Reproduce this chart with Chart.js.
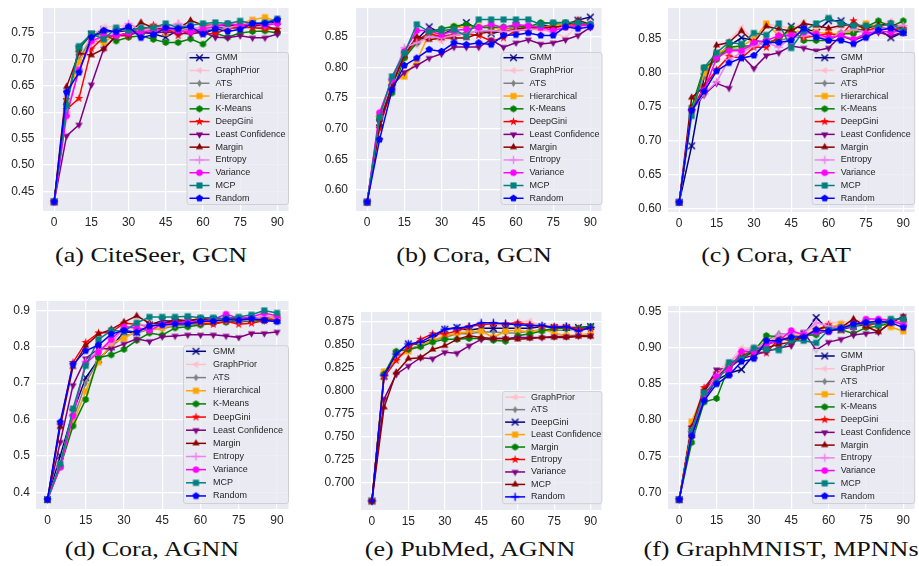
<!DOCTYPE html>
<html><head><meta charset="utf-8">
<script src="https://cdn.jsdelivr.net/npm/chart.js@4.4.1/dist/chart.umd.min.js"></script>
<style>
html,body{margin:0;padding:0;background:#fff;width:919px;height:566px;overflow:hidden;position:relative}
canvas{position:absolute}
.cap{position:absolute;font-family:"Liberation Serif",serif;font-size:21px;color:#111;white-space:nowrap;transform:translateX(-50%) scaleX(1.24);transform-origin:center;line-height:21px}
</style></head><body>
<div class="cap" style="left:151px;top:245px">(a) CiteSeer, GCN</div>
<div class="cap" style="left:474px;top:245px">(b) Cora, GCN</div>
<div class="cap" style="left:776px;top:245px">(c) Cora, GAT</div>
<div class="cap" style="left:152px;top:539px">(d) Cora, AGNN</div>
<div class="cap" style="left:470px;top:539px">(e) PubMed, AGNN</div>
<div class="cap" style="left:781px;top:539px">(f) GraphMNIST, MPNNs</div>
<script>
// ---------- data ----------
const xs = [0,5,10,15,20,25,30,35,40,45,50,55,60,65,70,75,80,85,90];
const xTicks = [0,15,30,45,60,75,90];

const methods12 = ['GMM','GraphPrior','ATS','Hierarchical','K-Means','DeepGini','Least Confidence','Margin','Entropy','Variance','MCP','Random'];
const colors12  = ['#000080','#FFC0CB','#808080','#FFA500','#008000','#FF0000','#800080','#8B0000','#EE82EE','#FF00FF','#008080','#0000FF'];
const markers12 = ['x','<','d','s','h','*','v','^','+','o','s','p'];

const methodsE = ['GraphPrior','ATS','DeepGini','Least Confidence','Margin','Entropy','Variance','MCP','Random'];
const colorsE  = ['#FFC0CB','#808080','#000080','#FFA500','#008000','#FF0000','#800080','#8B0000','#0000FF'];
const markersE = ['<','d','x','s','h','*','v','^','+'];

const ticksA = [0.45,0.50,0.55,0.60,0.65,0.70,0.75];
const ticksB = [0.60,0.65,0.70,0.75,0.80,0.85];
const ticksC = [0.60,0.65,0.70,0.75,0.80,0.85];
const ticksD = [0.4,0.5,0.6,0.7,0.8,0.9];
const ticksE = [0.700,0.725,0.750,0.775,0.800,0.825,0.850,0.875];
const ticksF = [0.70,0.75,0.80,0.85,0.90,0.95];

// (a) CiteSeer, GCN  (order = methods12)
const seriesA = [
 [0.43,0.62,0.72,0.748,0.757,0.752,0.755,0.753,0.748,0.742,0.755,0.756,0.752,0.758,0.762,0.765,0.768,0.766,0.772],
 [0.43,0.63,0.705,0.745,0.762,0.762,0.766,0.762,0.765,0.765,0.768,0.766,0.765,0.768,0.766,0.768,0.77,0.768,0.765],
 [0.43,0.62,0.70,0.74,0.75,0.755,0.755,0.758,0.755,0.752,0.755,0.758,0.755,0.758,0.76,0.758,0.762,0.76,0.76],
 [0.43,0.62,0.695,0.735,0.732,0.748,0.745,0.755,0.758,0.75,0.758,0.752,0.762,0.765,0.762,0.768,0.775,0.78,0.772],
 [0.43,0.615,0.72,0.748,0.748,0.735,0.742,0.745,0.738,0.732,0.732,0.739,0.729,0.75,0.742,0.75,0.753,0.754,0.75],
 [0.43,0.605,0.626,0.72,0.742,0.745,0.745,0.755,0.765,0.76,0.745,0.755,0.748,0.749,0.758,0.762,0.76,0.758,0.757],
 [0.43,0.555,0.576,0.652,0.72,0.745,0.748,0.75,0.75,0.752,0.75,0.748,0.752,0.742,0.741,0.745,0.741,0.741,0.748],
 [0.43,0.648,0.712,0.708,0.72,0.745,0.75,0.77,0.76,0.758,0.758,0.774,0.765,0.765,0.765,0.765,0.765,0.765,0.755],
 [0.43,0.60,0.68,0.73,0.745,0.75,0.768,0.755,0.76,0.762,0.768,0.758,0.762,0.765,0.76,0.765,0.77,0.765,0.768],
 [0.43,0.593,0.68,0.735,0.745,0.745,0.75,0.752,0.755,0.758,0.755,0.752,0.758,0.762,0.768,0.765,0.768,0.765,0.768],
 [0.43,0.612,0.725,0.749,0.738,0.76,0.755,0.76,0.76,0.768,0.76,0.765,0.768,0.77,0.768,0.773,0.768,0.77,0.777],
 [0.43,0.638,0.675,0.742,0.755,0.752,0.762,0.741,0.747,0.76,0.758,0.762,0.748,0.758,0.753,0.757,0.768,0.768,0.775]
];
// (b) Cora, GCN
const seriesB = [
 [0.58,0.71,0.775,0.82,0.845,0.866,0.855,0.862,0.873,0.862,0.855,0.86,0.868,0.865,0.868,0.868,0.87,0.877,0.882],
 [0.58,0.727,0.78,0.83,0.835,0.848,0.842,0.848,0.85,0.855,0.858,0.862,0.865,0.862,0.86,0.858,0.848,0.87,0.87],
 [0.58,0.715,0.775,0.82,0.84,0.852,0.85,0.855,0.855,0.86,0.858,0.862,0.865,0.865,0.866,0.868,0.87,0.872,0.87],
 [0.58,0.72,0.775,0.785,0.81,0.855,0.855,0.866,0.865,0.867,0.865,0.862,0.86,0.866,0.865,0.868,0.87,0.872,0.868],
 [0.58,0.715,0.758,0.815,0.84,0.858,0.863,0.867,0.87,0.865,0.865,0.866,0.868,0.866,0.873,0.872,0.873,0.872,0.87],
 [0.58,0.70,0.77,0.82,0.845,0.855,0.85,0.852,0.855,0.852,0.843,0.848,0.86,0.862,0.865,0.865,0.868,0.87,0.868],
 [0.58,0.71,0.77,0.792,0.803,0.815,0.822,0.833,0.833,0.833,0.845,0.833,0.84,0.845,0.838,0.84,0.845,0.852,0.865],
 [0.58,0.705,0.77,0.82,0.85,0.845,0.848,0.848,0.848,0.855,0.858,0.858,0.862,0.865,0.865,0.865,0.868,0.877,0.87],
 [0.58,0.72,0.78,0.832,0.84,0.85,0.848,0.852,0.855,0.86,0.86,0.858,0.86,0.862,0.862,0.858,0.868,0.865,0.868],
 [0.58,0.726,0.78,0.826,0.86,0.86,0.853,0.86,0.862,0.865,0.87,0.865,0.87,0.868,0.865,0.86,0.865,0.868,0.87],
 [0.58,0.718,0.785,0.823,0.87,0.858,0.86,0.862,0.851,0.878,0.878,0.878,0.878,0.878,0.87,0.873,0.873,0.873,0.87],
 [0.58,0.682,0.763,0.803,0.815,0.829,0.826,0.84,0.837,0.84,0.837,0.852,0.853,0.856,0.852,0.852,0.866,0.863,0.866]
];
// (c) Cora, GAT
const seriesC = [
 [0.61,0.693,0.795,0.825,0.84,0.852,0.848,0.845,0.848,0.869,0.866,0.86,0.877,0.877,0.865,0.862,0.865,0.852,0.86],
 [0.61,0.745,0.80,0.83,0.848,0.867,0.85,0.872,0.87,0.865,0.875,0.868,0.862,0.868,0.872,0.87,0.872,0.877,0.87],
 [0.61,0.745,0.795,0.825,0.835,0.835,0.84,0.845,0.848,0.852,0.855,0.855,0.85,0.86,0.86,0.862,0.865,0.865,0.868],
 [0.61,0.745,0.80,0.828,0.838,0.84,0.85,0.873,0.855,0.86,0.862,0.86,0.858,0.858,0.862,0.873,0.868,0.865,0.865],
 [0.61,0.75,0.808,0.82,0.838,0.84,0.84,0.845,0.85,0.866,0.848,0.848,0.848,0.858,0.858,0.868,0.877,0.868,0.877],
 [0.61,0.745,0.78,0.805,0.825,0.822,0.838,0.838,0.855,0.855,0.852,0.855,0.858,0.855,0.877,0.862,0.868,0.865,0.865],
 [0.61,0.745,0.768,0.785,0.778,0.826,0.807,0.826,0.83,0.84,0.837,0.833,0.837,0.855,0.848,0.855,0.86,0.855,0.86],
 [0.61,0.764,0.78,0.841,0.845,0.862,0.845,0.869,0.865,0.862,0.873,0.87,0.866,0.87,0.872,0.866,0.87,0.873,0.866],
 [0.61,0.745,0.77,0.787,0.82,0.83,0.84,0.845,0.838,0.852,0.855,0.856,0.85,0.86,0.865,0.86,0.865,0.868,0.87],
 [0.61,0.745,0.775,0.822,0.833,0.833,0.845,0.848,0.855,0.856,0.86,0.858,0.852,0.855,0.85,0.858,0.862,0.86,0.862],
 [0.61,0.737,0.808,0.83,0.845,0.843,0.859,0.856,0.873,0.837,0.862,0.873,0.881,0.873,0.87,0.87,0.868,0.873,0.862],
 [0.61,0.745,0.773,0.803,0.815,0.822,0.826,0.845,0.845,0.848,0.866,0.853,0.848,0.848,0.843,0.852,0.863,0.866,0.859]
];
// (d) Cora, AGNN
const seriesD = [
 [0.38,0.50,0.62,0.715,0.765,0.80,0.84,0.84,0.86,0.872,0.87,0.872,0.875,0.875,0.878,0.876,0.875,0.875,0.873],
 [0.38,0.48,0.62,0.75,0.79,0.82,0.85,0.85,0.858,0.862,0.865,0.868,0.87,0.872,0.875,0.87,0.875,0.878,0.872],
 [0.38,0.475,0.60,0.70,0.765,0.80,0.83,0.838,0.848,0.85,0.858,0.86,0.862,0.866,0.868,0.868,0.87,0.87,0.872],
 [0.38,0.47,0.59,0.678,0.758,0.81,0.823,0.845,0.848,0.852,0.862,0.865,0.866,0.868,0.872,0.872,0.878,0.885,0.882],
 [0.38,0.47,0.582,0.655,0.77,0.778,0.793,0.818,0.838,0.832,0.852,0.855,0.86,0.865,0.868,0.87,0.872,0.875,0.875],
 [0.38,0.585,0.757,0.812,0.838,0.84,0.865,0.862,0.855,0.865,0.868,0.866,0.865,0.862,0.87,0.862,0.865,0.872,0.875],
 [0.38,0.538,0.694,0.768,0.795,0.795,0.808,0.822,0.815,0.828,0.83,0.833,0.833,0.833,0.83,0.826,0.837,0.837,0.841],
 [0.38,0.58,0.745,0.803,0.835,0.848,0.868,0.885,0.865,0.862,0.875,0.872,0.878,0.875,0.878,0.878,0.88,0.88,0.88],
 [0.38,0.47,0.61,0.76,0.79,0.81,0.852,0.86,0.86,0.858,0.862,0.866,0.87,0.872,0.875,0.872,0.875,0.885,0.878],
 [0.38,0.469,0.61,0.755,0.785,0.82,0.855,0.852,0.845,0.862,0.865,0.868,0.87,0.875,0.89,0.878,0.882,0.893,0.885],
 [0.38,0.478,0.63,0.748,0.82,0.845,0.843,0.866,0.882,0.882,0.882,0.884,0.88,0.88,0.878,0.882,0.888,0.90,0.893],
 [0.38,0.593,0.752,0.789,0.805,0.835,0.845,0.84,0.857,0.86,0.863,0.863,0.87,0.87,0.875,0.873,0.877,0.873,0.869]
];
// (e) PubMed, AGNN  (order = methodsE)
const seriesE = [
 [0.68,0.818,0.838,0.848,0.853,0.858,0.862,0.865,0.866,0.868,0.87,0.872,0.875,0.876,0.871,0.87,0.87,0.868,0.868],
 [0.68,0.818,0.835,0.845,0.85,0.855,0.858,0.862,0.862,0.864,0.864,0.863,0.863,0.865,0.866,0.866,0.866,0.867,0.868],
 [0.68,0.816,0.84,0.851,0.851,0.857,0.867,0.869,0.866,0.868,0.868,0.868,0.868,0.868,0.87,0.869,0.869,0.869,0.87],
 [0.68,0.821,0.835,0.843,0.85,0.855,0.86,0.863,0.864,0.865,0.858,0.865,0.866,0.864,0.867,0.863,0.86,0.861,0.862],
 [0.68,0.818,0.843,0.845,0.848,0.853,0.856,0.856,0.857,0.857,0.855,0.854,0.86,0.862,0.865,0.868,0.868,0.868,0.87],
 [0.68,0.815,0.833,0.847,0.856,0.862,0.862,0.865,0.87,0.872,0.873,0.873,0.874,0.872,0.87,0.87,0.87,0.867,0.868],
 [0.68,0.791,0.818,0.827,0.836,0.835,0.842,0.841,0.849,0.856,0.857,0.857,0.858,0.858,0.858,0.859,0.859,0.86,0.86],
 [0.68,0.782,0.82,0.835,0.836,0.845,0.849,0.856,0.86,0.858,0.857,0.857,0.856,0.857,0.858,0.858,0.858,0.859,0.859],
 [0.68,0.817,0.84,0.851,0.853,0.86,0.867,0.868,0.87,0.874,0.874,0.873,0.872,0.871,0.871,0.869,0.87,0.865,0.869]
];
// (f) GraphMNIST, MPNNs
const seriesF = [
 [0.69,0.78,0.83,0.855,0.865,0.87,0.89,0.905,0.91,0.915,0.918,0.942,0.925,0.925,0.93,0.932,0.935,0.935,0.935],
 [0.69,0.79,0.84,0.868,0.88,0.90,0.90,0.91,0.915,0.918,0.92,0.93,0.935,0.935,0.938,0.938,0.94,0.94,0.938],
 [0.69,0.785,0.835,0.86,0.875,0.888,0.895,0.91,0.92,0.918,0.915,0.92,0.925,0.928,0.93,0.935,0.935,0.937,0.935],
 [0.69,0.798,0.84,0.862,0.875,0.89,0.898,0.908,0.912,0.915,0.918,0.925,0.928,0.933,0.93,0.935,0.935,0.929,0.923],
 [0.69,0.769,0.825,0.83,0.875,0.885,0.895,0.917,0.915,0.91,0.918,0.918,0.925,0.925,0.92,0.928,0.93,0.935,0.937],
 [0.69,0.79,0.845,0.865,0.875,0.89,0.895,0.893,0.913,0.91,0.915,0.925,0.932,0.925,0.935,0.93,0.935,0.938,0.935],
 [0.69,0.79,0.84,0.87,0.872,0.885,0.89,0.895,0.90,0.903,0.922,0.897,0.908,0.912,0.918,0.92,0.922,0.935,0.944],
 [0.69,0.79,0.84,0.86,0.875,0.888,0.895,0.90,0.905,0.908,0.915,0.925,0.93,0.928,0.94,0.93,0.922,0.935,0.943],
 [0.69,0.785,0.835,0.862,0.878,0.895,0.90,0.905,0.918,0.92,0.92,0.935,0.93,0.928,0.932,0.935,0.938,0.937,0.935],
 [0.69,0.78,0.83,0.86,0.87,0.895,0.895,0.905,0.91,0.924,0.918,0.922,0.922,0.928,0.928,0.94,0.94,0.938,0.932],
 [0.69,0.785,0.838,0.852,0.88,0.885,0.90,0.898,0.897,0.91,0.91,0.907,0.925,0.928,0.93,0.935,0.932,0.94,0.94],
 [0.69,0.778,0.827,0.85,0.862,0.881,0.885,0.91,0.91,0.915,0.915,0.925,0.923,0.927,0.933,0.935,0.937,0.935,0.928]
];

// ---------- drawing helpers ----------
function makeMarker(shape, color){
  const s = 11, c = s/2, r = 3.6;
  const cv = document.createElement('canvas'); cv.width = s; cv.height = s;
  const g = cv.getContext('2d');
  g.fillStyle = color; g.strokeStyle = color; g.lineWidth = 1.4;
  const poly = pts => { g.beginPath(); pts.forEach(([x,y],i)=> i ? g.lineTo(c+x,c+y) : g.moveTo(c+x,c+y)); g.closePath(); g.fill(); };
  const reg = (n, rad, rot) => Array.from({length:n}, (_,k)=>{ const a = rot + k*2*Math.PI/n; return [rad*Math.sin(a), -rad*Math.cos(a)]; });
  switch(shape){
    case 'x': g.beginPath(); g.moveTo(c-r+0.3,c-r+0.3); g.lineTo(c+r-0.3,c+r-0.3); g.moveTo(c+r-0.3,c-r+0.3); g.lineTo(c-r+0.3,c+r-0.3); g.stroke(); break;
    case '+': g.beginPath(); g.moveTo(c-r-0.5,c); g.lineTo(c+r+0.5,c); g.moveTo(c,c-r-0.5); g.lineTo(c,c+r+0.5); g.stroke(); break;
    case '^': poly(reg(3, r*1.15, 0)); break;
    case 'v': poly(reg(3, r*1.15, Math.PI)); break;
    case '<': poly(reg(3, r*1.15, -Math.PI/2)); break;
    case 'd': poly([[0,-r*1.05],[r*0.65,0],[0,r*1.05],[-r*0.65,0]]); break;
    case 's': g.fillRect(c-r*0.85, c-r*0.85, r*1.7, r*1.7); break;
    case 'h': poly(reg(6, r, 0)); break;
    case 'p': poly(reg(5, r*1.05, 0)); break;
    case 'o': g.beginPath(); g.arc(c,c,r*0.9,0,2*Math.PI); g.fill(); break;
    case '*': { const pts=[]; for(let k=0;k<10;k++){ const a=k*Math.PI/5; const rr = k%2 ? r*0.5 : r*1.25; pts.push([rr*Math.sin(a), -rr*Math.cos(a)]); } poly(pts); break; }
  }
  return cv;
}

const bgPlugin = { id:'bg', beforeDraw(chart){ const {ctx, chartArea:a} = chart; ctx.save(); ctx.fillStyle = '#EAEAF2'; ctx.fillRect(a.left, a.top, a.right-a.left, a.bottom-a.top); ctx.restore(); } };

const legendPlugin = { id:'mplLegend', afterDraw(chart, args, o){
  const ctx = chart.ctx;
  const x = o.x - o.ox, y = o.y - o.oy;
  ctx.save();
  ctx.beginPath();
  if (ctx.roundRect) ctx.roundRect(x+0.5, y+0.5, o.w, o.h, 2.5); else ctx.rect(x+0.5, y+0.5, o.w, o.h);
  ctx.fillStyle = 'rgba(234,234,242,0.8)'; ctx.fill();
  ctx.strokeStyle = '#cfcfd4'; ctx.lineWidth = 1; ctx.stroke();
  ctx.font = '9px "Liberation Sans", Arial, sans-serif';
  ctx.textBaseline = 'middle';
  chart.data.datasets.forEach((ds, i) => {
    const cy = y + o.first + i*o.step;
    ctx.strokeStyle = ds.borderColor; ctx.lineWidth = 1.5;
    ctx.beginPath(); ctx.moveTo(x+3, cy); ctx.lineTo(x+23, cy); ctx.stroke();
    const m = ds.pointStyle; ctx.drawImage(m, x+13 - m.width/2, cy - m.height/2);
    ctx.fillStyle = '#262626'; ctx.fillText(ds.label, x + o.tx, cy);
  });
  ctx.restore();
} };

function makeChart(box, yRange, yTicks, decimals, ypad, labels, colors, markers, values, leg){
  const [L,T,R,B] = box;
  const padTop = 22, axW = 50, axH = 26, padRight = 1;
  const left = L - axW, top = T - padTop;
  const w = Math.round((R - L) + axW + padRight), h = Math.round((B - T) + padTop + axH);
  const cv = document.createElement('canvas');
  cv.style.left = left + 'px'; cv.style.top = top + 'px';
  cv.width = w; cv.height = h; cv.style.width = w + 'px'; cv.style.height = h + 'px';
  document.body.appendChild(cv);
  const tickFont = { family: '"Liberation Sans", Arial, sans-serif', size: 12 };
  new Chart(cv, {
    type: 'line',
    data: { datasets: labels.map((lab, i) => ({
      label: lab,
      data: xs.map((x, j) => ({ x: x, y: values[i][j] })),
      borderColor: colors[i], backgroundColor: colors[i],
      borderWidth: 1.5, tension: 0,
      pointStyle: makeMarker(markers[i], colors[i]),
      pointRadius: 4, pointHoverRadius: 4,
      order: -i
    })) },
    options: {
      responsive: false, animation: false, events: [],
      layout: { padding: { top: padTop, right: padRight, left: 0, bottom: 0 } },
      plugins: { legend: { display: false }, tooltip: { enabled: false },
        mplLegend: Object.assign({ ox: left, oy: top, tx: 29 }, leg) },
      scales: {
        x: { type: 'linear', min: -4.5, max: 94.5,
             afterBuildTicks: s => { s.ticks = xTicks.map(v => ({ value: v })); },
             afterFit: s => { s.height = axH; },
             grid: { color: '#ffffff', lineWidth: 1.2, drawTicks: false },
             border: { display: false },
             ticks: { padding: 4, color: '#262626', font: tickFont, maxRotation: 0, autoSkip: false, callback: v => String(v) } },
        y: { type: 'linear', min: yRange[0], max: yRange[1],
             afterBuildTicks: s => { s.ticks = yTicks.map(v => ({ value: v })); },
             afterFit: s => { s.width = axW; },
             grid: { color: '#ffffff', lineWidth: 1.2, drawTicks: false },
             border: { display: false },
             ticks: { padding: ypad, color: '#262626', font: tickFont, autoSkip: false, callback: v => Number(v).toFixed(decimals) } }
      }
    },
    plugins: [bgPlugin, legendPlugin]
  });
}

const leg1 = { first: 5.7, step: 12.78, h: 152 };
makeChart([43,8,293,211], [0.4125,0.7975], ticksA, 2, 8.5, methods12, colors12, markers12, seriesA, Object.assign({ x: 186.5, y: 52, w: 101.5 }, leg1));
makeChart([355.5,8,605.5,211], [0.5655,0.8968], ticksB, 2, 8, methods12, colors12, markers12, seriesB, Object.assign({ x: 500, y: 52, w: 101 }, leg1));
makeChart([668,8,918.7,212], [0.5957,0.8958], ticksC, 2, 6.5, methods12, colors12, markers12, seriesC, Object.assign({ x: 811.7, y: 52, w: 102.5 }, leg1));
makeChart([36,300.7,292.6,508.4], [0.354,0.926], ticksD, 1, 6, methods12, colors12, markers12, seriesD, { x: 183, y: 345, w: 105, first: 6, step: 13.15, h: 157.7, tx: 30 });
makeChart([360.6,311.8,605.5,510], [0.6702,0.8858], ticksE, 3, 6.5, methodsE, colorsE, markersE, seriesE, { x: 501.7, y: 390.7, w: 99.3, first: 6.3, step: 12.46, h: 112.3 });
makeChart([668,306,918.7,509], [0.677,0.958], ticksF, 2, 6.5, methods12, colors12, markers12, seriesF, { x: 811.7, y: 349, w: 102.5, first: 7, step: 12.73, h: 154 });
</script>
</body></html>
